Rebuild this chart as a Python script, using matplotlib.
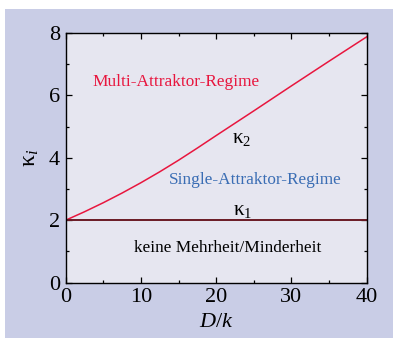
import numpy as np
import matplotlib
matplotlib.use("Agg")
import matplotlib.pyplot as plt
from matplotlib.patches import Rectangle
from matplotlib.ticker import MultipleLocator

plt.rcParams['font.family'] = 'serif'
plt.rcParams['font.serif'] = ['Liberation Serif', 'DejaVu Serif']
plt.rcParams['mathtext.fontset'] = 'custom'
plt.rcParams['mathtext.rm'] = 'Liberation Serif'
plt.rcParams['mathtext.it'] = 'Liberation Serif:italic'

# kappa_1 and kappa_2 over D/k
d_over_k = [0, 2.5, 5, 7.5, 10, 12.5, 15, 17.5, 20, 25, 30, 35, 40]
kappa2 = [2.0, 2.27, 2.56, 2.87, 3.20, 3.55, 3.92, 4.31, 4.71, 5.50, 6.30, 7.09, 7.87]
kappa1 = [2.0] * len(d_over_k)

panel = '#c9cde6'
face = '#e6e6f0'
red = '#e8163e'
blue = '#3a6db4'
darkred = '#6a1a24'

fig = plt.figure(figsize=(3.93, 3.38), dpi=100)
fig.patch.set_facecolor('white')
fig.patches.append(Rectangle((5 / 393, 0), 1, 1 - 9 / 338, transform=fig.transFigure,
                             facecolor=panel, edgecolor='none', zorder=-10))

ax = fig.add_axes([0.167, 0.1636, 0.766, 0.7394])
ax.set_facecolor(face)
ax.plot(d_over_k, kappa2, color=red, lw=1.1)
ax.plot(d_over_k, kappa1, color=darkred, lw=1.4)

ax.set_xlim(0, 40)
ax.set_ylim(0, 8)
ax.xaxis.set_major_locator(MultipleLocator(10))
ax.xaxis.set_minor_locator(MultipleLocator(5))
ax.yaxis.set_major_locator(MultipleLocator(2))
ax.yaxis.set_minor_locator(MultipleLocator(1))
ax.tick_params(which='both', direction='in', top=True, right=True, labelsize=16, width=0.9)
ax.tick_params(which='major', length=4, pad=4)
ax.tick_params(which='minor', length=2.5)
for s in ax.spines.values():
    s.set_linewidth(1.0)

ax.set_xlabel('$D/k$', fontsize=16, labelpad=4)
ax.set_ylabel('κ$_i$', fontsize=17, labelpad=6)

ax.text(14.7, 6.43, 'Multi-Attraktor-Regime', color=red, fontsize=12.4, ha='center', va='center')
ax.text(23.4, 4.62, 'κ$_2$', color='black', fontsize=15, ha='center', va='center')
ax.text(25.2, 3.28, 'Single-Attraktor-Regime', color=blue, fontsize=12.4, ha='center', va='center')
ax.text(23.5, 2.30, 'κ$_1$', color='black', fontsize=15, ha='center', va='center')
ax.text(21.5, 1.12, 'keine Mehrheit/Minderheit', color='black', fontsize=12.4, ha='center', va='center')

fig.savefig('out.png', dpi=100, facecolor=fig.get_facecolor())
